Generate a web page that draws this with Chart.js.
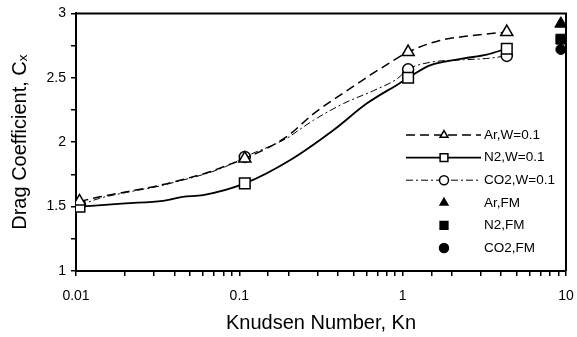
<!DOCTYPE html>
<html>
<head>
<meta charset="utf-8">
<script src="https://cdn.jsdelivr.net/npm/chart.js@4.4.0/dist/chart.umd.min.js"></script>
<style>
  html, body { margin: 0; padding: 0; background: #fff; }
  #wrap { width: 577px; height: 337px; }
</style>
</head>
<body>
<div id="wrap"><canvas id="c" width="577" height="337"></canvas></div>
<script>
// Curvas de Cx frente a Kn
const arKn  = [0.0105, 0.014, 0.0204, 0.0312, 0.0433, 0.066, 0.0838, 0.108, 0.195, 0.284, 0.476, 0.631, 0.818, 1.08, 1.69, 2.36, 3.27, 4.34];
const arCx  = [1.54, 1.576, 1.615, 1.66, 1.705, 1.77, 1.82, 1.873, 2.043, 2.22, 2.416, 2.52, 2.61, 2.70, 2.79, 2.82, 2.84, 2.855];

const n2Kn  = [0.0105, 0.02, 0.034, 0.045, 0.06, 0.108, 0.204, 0.376, 0.602, 0.964, 1.08, 1.47, 2.36, 3.27, 4.34];
const n2Cx  = [1.50, 1.525, 1.545, 1.575, 1.589, 1.68, 1.86, 2.093, 2.30, 2.46, 2.50, 2.597, 2.65, 2.68, 2.726];

const co2Kn = [0.0105, 0.014, 0.0204, 0.0312, 0.0433, 0.066, 0.0838, 0.108, 0.195, 0.235, 0.284, 0.434, 0.662, 0.92, 1.08, 1.47, 2.36, 3.27, 4.34];
const co2Cx = [1.51, 1.565, 1.61, 1.655, 1.70, 1.765, 1.815, 1.886, 2.03, 2.10, 2.17, 2.30, 2.40, 2.49, 2.566, 2.62, 2.64, 2.65, 2.67];

// Kn donde van los marcadores de cada curva
const markerKn = [0.0105, 0.108, 1.08, 4.34];

// Límite molecular libre (FM)
const fmKn = 9.3;
const fmAr = 2.92, fmN2 = 2.80, fmCO2 = 2.72;

const xTickLabels = [0.01, 0.1, 1, 10];
const yTickLabels = [1, 1.5, 2, 2.5, 3];

const FONT = 'Arial, "Liberation Sans", sans-serif';

const pts = (xs, ys) => xs.map((x, i) => ({ x, y: ys[i] }));
const markR = (r) => (ctx) => markerKn.includes(ctx.raw && ctx.raw.x) ? r : 0;

const datasets = [
  { label: 'Ar,W=0.1', data: pts(arKn, arCx), borderColor: '#000', borderWidth: 1.5, borderDash: [9, 5],
    pointStyle: 'triangle', pointRadius: markR(7), pointBackgroundColor: '#fff', pointBorderColor: '#000', pointBorderWidth: 1.5 },
  { label: 'N2,W=0.1', data: pts(n2Kn, n2Cx), borderColor: '#000', borderWidth: 1.8, borderDash: [],
    pointStyle: 'rect', pointRadius: markR(7.5), pointBackgroundColor: '#fff', pointBorderColor: '#000', pointBorderWidth: 1.5 },
  { label: 'CO2,W=0.1', data: pts(co2Kn, co2Cx), borderColor: '#000', borderWidth: 1, borderDash: [7, 3, 2, 3],
    pointStyle: 'circle', pointRadius: markR(5.5), pointBackgroundColor: '#fff', pointBorderColor: '#000', pointBorderWidth: 1.5 },
  { label: 'Ar,FM', data: [{ x: fmKn, y: fmAr }], showLine: false, pointStyle: 'triangle', pointRadius: 7,
    pointBackgroundColor: '#000', pointBorderColor: '#000', clip: false },
  { label: 'N2,FM', data: [{ x: fmKn, y: fmN2 }], showLine: false, pointStyle: 'rect', pointRadius: 7,
    pointBackgroundColor: '#000', pointBorderColor: '#000', clip: false },
  { label: 'CO2,FM', data: [{ x: fmKn, y: fmCO2 }], showLine: false, pointStyle: 'circle', pointRadius: 5,
    pointBackgroundColor: '#000', pointBorderColor: '#000', clip: false }
];

// Marco superior/derecho + leyenda dibujada a mano (línea + marcador)
const framePlugin = {
  id: 'frame',
  afterDraw(chart) {
    const { ctx, chartArea: a } = chart;
    ctx.save();
    ctx.strokeStyle = '#000';
    ctx.lineWidth = 2;
    ctx.beginPath();
    ctx.moveTo(a.left, a.top);
    ctx.lineTo(a.right, a.top);
    ctx.lineTo(a.right, a.bottom);
    ctx.stroke();

    const x0 = 406, x1 = 481, xm = 444, xt = 484, y0 = 135, dy = 22.6;
    chart.data.datasets.forEach((ds, i) => {
      const y = y0 + i * dy;
      if (ds.showLine !== false) {
        ctx.setLineDash(ds.borderDash || []);
        ctx.lineWidth = ds.borderWidth;
        ctx.beginPath();
        ctx.moveTo(x0, y);
        ctx.lineTo(x1, y);
        ctx.stroke();
        ctx.setLineDash([]);
      }
      ctx.fillStyle = ds.pointBackgroundColor;
      ctx.strokeStyle = '#000';
      ctx.lineWidth = 1.5;
      Chart.helpers.drawPoint(ctx, { pointStyle: ds.pointStyle, radius: ds.pointStyle === 'rect' ? 5.5 : 4.5, rotation: 0, borderWidth: 1.5 }, xm, y);
      ctx.fillStyle = '#000';
      ctx.font = '13.5px ' + FONT;
      ctx.textBaseline = 'middle';
      ctx.textAlign = 'left';
      ctx.fillText(ds.label, xt, y);
    });
    ctx.restore();
  }
};

new Chart(document.getElementById('c'), {
  type: 'scatter',
  data: { datasets: datasets.map(d => ({ showLine: true, ...d })) },
  options: {
    responsive: false,
    animation: false,
    layout: { padding: { top: 12, right: 11, left: 8, bottom: 0 } },
    plugins: { legend: { display: false }, tooltip: { enabled: false } },
    elements: { line: { tension: 0, cubicInterpolationMode: 'monotone' } },
    scales: {
      x: {
        type: 'logarithmic', min: 0.01, max: 10,
        afterFit: (s) => { s.height = 66; s.paddingLeft = 0; s.paddingRight = 0; },
        border: { color: '#000', width: 2 },
        grid: { drawOnChartArea: false, color: '#000', tickLength: 5, lineWidth: 1.5 },
        ticks: {
          color: '#000', font: { size: 14, family: FONT }, padding: 12, autoSkip: false, maxRotation: 0,
          callback: (v) => {
            const hit = xTickLabels.find(t => Math.abs(Math.log10(v) - Math.log10(t)) < 1e-6);
            return hit !== undefined ? String(hit) : '';
          }
        },
        title: { display: true, text: 'Knudsen Number, Kn', color: '#000', font: { size: 20, family: FONT }, padding: { top: 6, bottom: 2 } }
      },
      y: {
        min: 1, max: 3,
        afterFit: (s) => { s.width = 68; },
        border: { color: '#000', width: 2 },
        grid: { drawOnChartArea: false, color: '#000', tickLength: 5, lineWidth: 1.5 },
        ticks: {
          stepSize: 0.25, color: '#000', font: { size: 14, family: FONT }, padding: 5,
          callback: (v) => yTickLabels.find(t => Math.abs(t - v) < 1e-6) !== undefined ? String(v) : ''
        },
        title: { display: true, text: 'Drag Coefficient, C\u2093', color: '#000', font: { size: 20, family: FONT }, padding: { top: 0, bottom: 10 } }
      }
    }
  },
  plugins: [framePlugin]
});
</script>
</body>
</html>
